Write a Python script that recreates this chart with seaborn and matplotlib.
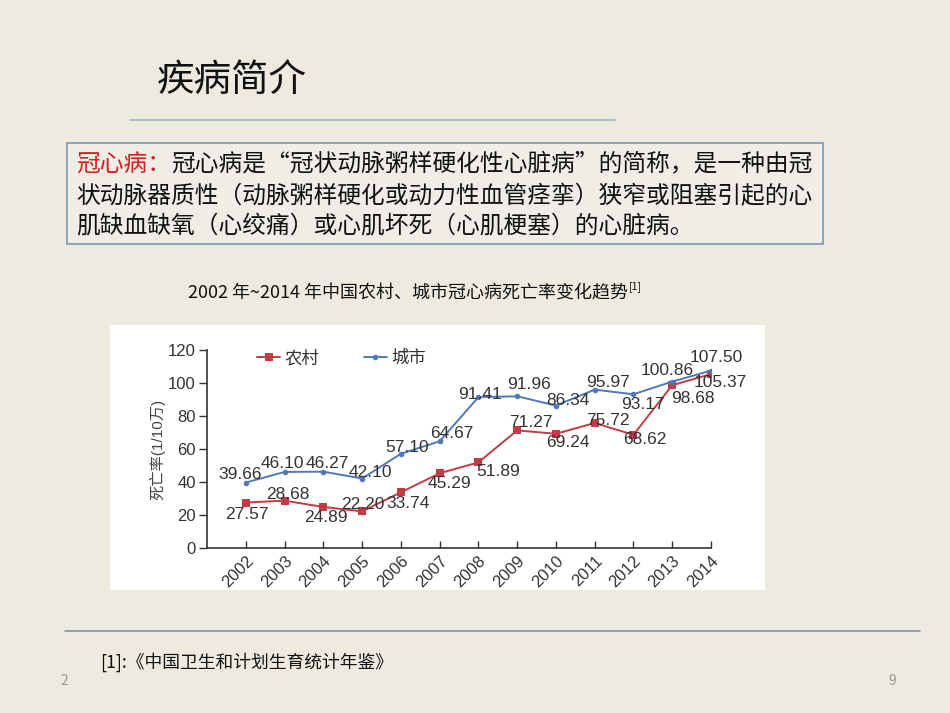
import pandas as pd
import matplotlib
matplotlib.use('Agg')
import matplotlib.pyplot as plt
from matplotlib.patches import Rectangle
from matplotlib.lines import Line2D
import seaborn as sns

# data
years = [2002, 2003, 2004, 2005, 2006, 2007, 2008, 2009, 2010, 2011, 2012, 2013, 2014]
rural = [27.57, 28.68, 24.89, 22.20, 33.74, 45.29, 51.89, 71.27, 69.24, 75.72, 68.62, 98.68, 105.37]
urban = [39.66, 46.10, 46.27, 42.10, 57.10, 64.67, 91.41, 91.96, 86.34, 95.97, 93.17, 100.86, 107.50]
series_names = ['农村', '城市']

title = '疾病简介'
intro_head = '冠心病：'
intro_lines = ['冠心病是“冠状动脉粥样硬化性心脏病”的简称，是一种由冠',
               '状动脉器质性（动脉粥样硬化或动力性血管痉挛）狭窄或阻塞引起的心',
               '肌缺血缺氧（心绞痛）或心肌坏死（心肌梗塞）的心脏病。']
caption = '2002 年~2014 年中国农村、城市冠心病死亡率变化趋势'
footnote = '[1]:《中国卫生和计划生育统计年鉴》'

# label offsets (pixels) for the value annotations
rural_off = [(1, -12), (3, 6), (3, -11), (1, 7), (7, -11), (10, -10), (20, -9),
             (14, 8), (12, -9), (13, 3), (11, -5), (21, -13), (9, -8)]
urban_off = [(-6, 8), (-2, 8), (4, 8), (8, 6), (6, 6), (12, 8), (2, 3),
             (12, 12), (12, 5), (13, 7), (9, -10), (-5, 11), (5, 13)]

df = pd.concat([
    pd.DataFrame({'year': years, 'rate': rural, 'area': series_names[0]}),
    pd.DataFrame({'year': years, 'rate': urban, 'area': series_names[1]}),
])

sns.set_style('white')
plt.rcParams['font.family'] = ['Noto Sans CJK SC', 'DejaVu Sans']

W, H = 950, 713
bg = '#edebe0'
red = '#c23b45'
blue = '#4f79b8'

fig = plt.figure(figsize=(9.5, 7.13), dpi=100, facecolor=bg)

def fx(px):
    return px / W

def fy(py):
    return 1 - py / H

# slide decorations
fig.add_artist(Line2D([fx(130), fx(615)], [fy(120), fy(120)], color='#a5b3c6', lw=1.2))
fig.add_artist(Line2D([fx(65), fx(920)], [fy(631), fy(631)], color='#8494ab', lw=1.2))
fig.add_artist(Rectangle((fx(67), fy(244)), fx(823) - fx(67), fy(143) - fy(244),
                         transform=fig.transFigure, facecolor='#efede6',
                         edgecolor='#6f8fb5', lw=1.1, zorder=1))
fig.add_artist(Rectangle((fx(110), fy(590)), fx(765) - fx(110), fy(325) - fy(590),
                         transform=fig.transFigure, facecolor='white',
                         edgecolor='none', zorder=-1))

fig.text(fx(157), fy(80), title, fontsize=27, va='center', color='#111111')

renderer = fig.canvas.get_renderer()
inv = fig.transFigure.inverted()
line_y = [165, 197, 227]
head = fig.text(fx(76), fy(line_y[0]), intro_head, fontsize=17.1, va='center', color='#d21f1f')
bb = head.get_window_extent(renderer)
x_after = inv.transform((bb.x1, 0))[0]
fig.text(x_after, fy(line_y[0]), intro_lines[0], fontsize=17.1, va='center', color='#111111')
for ln, yy in zip(intro_lines[1:], line_y[1:]):
    fig.text(fx(76), fy(yy), ln, fontsize=17.1, va='center', color='#111111')

cap = fig.text(fx(188), fy(293), caption, fontsize=13, va='center', color='#111111')
bb = cap.get_window_extent(renderer)
fig.text(inv.transform((bb.x1 + 1, 0))[0], fy(287), '[1]', fontsize=7.5, va='center', color='#111111')

fig.text(fx(100), fy(662), footnote, fontsize=12.8, va='center', color='#111111')
fig.text(fx(60), fy(681), '2', fontsize=10, va='center', color='#999999')
fig.text(fx(888), fy(681), '9', fontsize=10, va='center', color='#999999')

# chart
ax = fig.add_axes([fx(207), fy(548), fx(711) - fx(207), fy(350) - fy(548)])
ax.set_facecolor('none')
chart_font = ['Liberation Sans', 'Noto Sans CJK SC']
tick_size = 12

sns.lineplot(data=df[df['area'] == series_names[0]], x='year', y='rate', ax=ax,
             color=red, marker='s', markersize=6, markeredgewidth=0, lw=1.4, legend=False)
sns.lineplot(data=df[df['area'] == series_names[1]], x='year', y='rate', ax=ax,
             color=blue, marker='o', markersize=4, markeredgewidth=0, lw=1.4, legend=False)

for vals, offs in ((rural, rural_off), (urban, urban_off)):
    for x, v, (dx, dy) in zip(years, vals, offs):
        ax.annotate(f'{v:.2f}', (x, v), xytext=(dx * 0.72, dy * 0.72), textcoords='offset points',
                    ha='center', va='center', fontsize=12.5, color='#333333', family=chart_font)

ax.set_xlim(2001, 2014)
ax.set_ylim(0, 120)
ax.set_xticks(years)
ax.set_yticks(range(0, 121, 20))
ax.set_xticklabels([str(y) for y in years], rotation=45, ha='right', rotation_mode='anchor',
                   family=chart_font, fontsize=tick_size, color='#333333')
ax.set_yticklabels([str(v) for v in range(0, 121, 20)], family=chart_font, fontsize=tick_size,
                   color='#333333')
ax.tick_params(axis='y', direction='out', length=6, width=1, color='#333333', left=True, pad=2)
ax.tick_params(axis='x', direction='in', length=5, width=1, color='#333333', bottom=True, pad=4)
for s in ['top', 'right']:
    ax.spines[s].set_visible(False)
for s in ['left', 'bottom']:
    ax.spines[s].set_color('#333333')
    ax.spines[s].set_linewidth(1.2)
ax.set_xlabel('')
ax.set_ylabel('死亡率(1/10万)', fontsize=11, color='#444444', family=chart_font, labelpad=2)

handles = [Line2D([], [], color=red, marker='s', markersize=6, markeredgewidth=0, lw=1.4),
           Line2D([], [], color=blue, marker='o', markersize=4, markeredgewidth=0, lw=1.4)]
ax.legend(handles, series_names, loc='center left', bbox_to_anchor=(0.10, 0.96), ncol=2,
          frameon=False, handlelength=1.3, columnspacing=2.6, handletextpad=0.25,
          borderpad=0, borderaxespad=0,
          prop={'family': chart_font, 'size': 12.5}, labelcolor='#333333')

fig.savefig('out.png', dpi=100, facecolor=bg)
